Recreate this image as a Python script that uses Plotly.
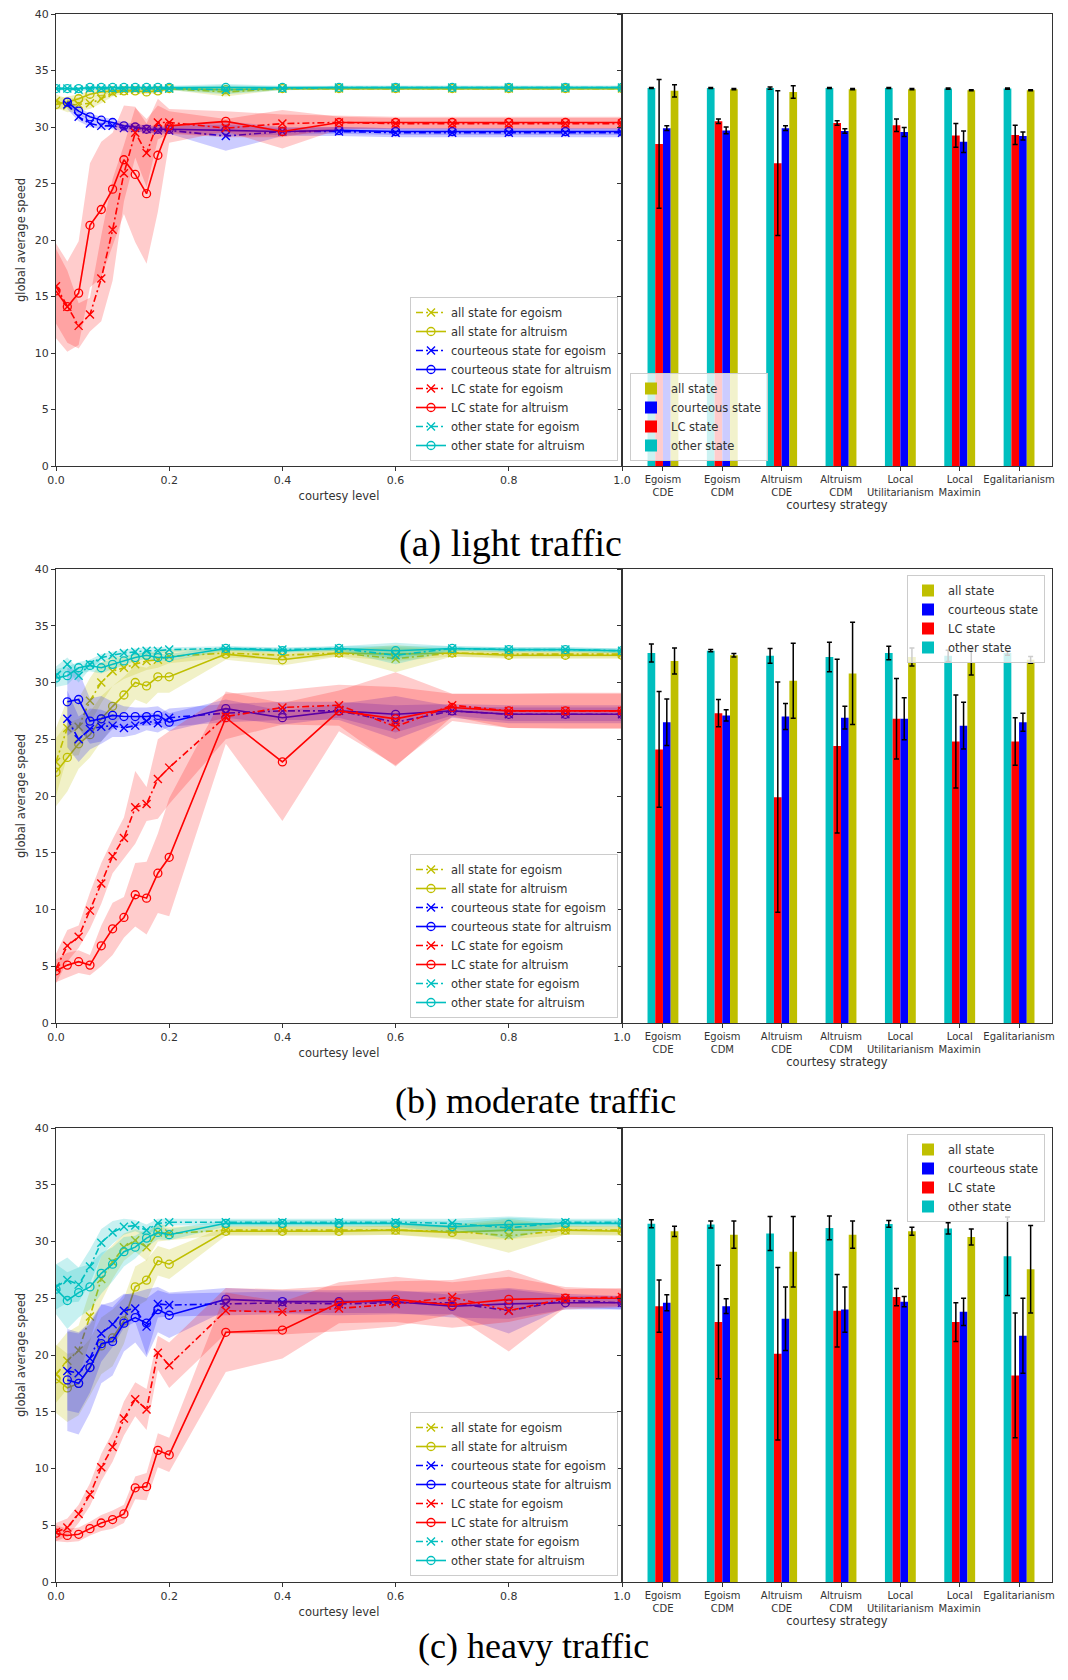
import plotly.graph_objects as go

# ---------------- data ----------------
X = [0, 0.02, 0.04, 0.06, 0.08, 0.10, 0.12, 0.14, 0.16, 0.18, 0.20, 0.3, 0.4, 0.5, 0.6, 0.7, 0.8, 0.9, 1.0]
X_TICKS = [0.0, 0.2, 0.4, 0.6, 0.8, 1.0]
Y_TICKS = [0, 5, 10, 15, 20, 25, 30, 35, 40]

STRATEGIES = ["Egoism<br>CDE", "Egoism<br>CDM", "Altruism<br>CDE", "Altruism<br>CDM",
              "Local<br>Utilitarianism", "Local<br>Maximin", "Egalitarianism"]

# light traffic - line chart (mean and band half width)
LIGHT_ALL_EGO = [32.3, 31.9, 32.0, 32.1, 32.5, 33.0, 33.2, 33.3, 33.3, 33.3, 33.4, 33.1, 33.4, 33.4, 33.4, 33.4, 33.4, 33.4, 33.4]
LIGHT_ALL_EGO_SD = [0.6, 0.6, 0.6, 0.5, 0.4, 0.3, 0.2, 0.2, 0.2, 0.2, 0.1, 0.4, 0.1, 0.1, 0.1, 0.1, 0.1, 0.1, 0.1]
LIGHT_ALL_ALT = [32.0, 32.2, 32.5, 32.9, 33.1, 33.2, 33.2, 33.2, 33.1, 33.2, 33.4, 33.3, 33.4, 33.4, 33.4, 33.4, 33.4, 33.4, 33.4]
LIGHT_ALL_ALT_SD = [0.5, 0.5, 0.4, 0.3, 0.3, 0.2, 0.2, 0.2, 0.2, 0.2, 0.1, 0.3, 0.1, 0.1, 0.1, 0.1, 0.1, 0.1, 0.1]
LIGHT_COUR_EGO = [None, 32.0, 30.9, 30.3, 30.1, 30.1, 29.9, 29.9, 29.8, 29.7, 29.7, 29.2, 29.6, 29.6, 29.5, 29.5, 29.5, 29.5, 29.5]
LIGHT_COUR_EGO_SD = [None, 0.4, 0.4, 0.3, 0.3, 0.3, 0.3, 0.3, 0.3, 0.3, 0.3, 1.3, 0.4, 0.4, 0.4, 0.4, 0.4, 0.4, 0.4]
LIGHT_COUR_ALT = [None, 32.2, 31.4, 30.9, 30.6, 30.4, 30.1, 30.0, 29.8, 29.8, 29.8, 29.7, 29.6, 29.7, 29.6, 29.6, 29.6, 29.6, 29.6]
LIGHT_COUR_ALT_SD = [None, 0.3, 0.3, 0.3, 0.3, 0.3, 0.3, 0.3, 0.3, 0.3, 0.3, 0.5, 0.3, 0.3, 0.3, 0.3, 0.3, 0.3, 0.3]
LIGHT_LC_EGO = [15.9, 14.1, 12.4, 13.4, 16.6, 20.9, 25.9, 29.5, 27.7, 30.4, 30.4, 29.9, 30.3, 30.4, 30.3, 30.3, 30.3, 30.3, 30.3]
LIGHT_LC_EGO_SD = [3.3, 3.2, 2.0, 1.5, 3.8, 4.5, 2.5, 2.2, 3.0, 1.5, 1.0, 0.8, 1.2, 0.5, 0.5, 0.5, 0.5, 0.5, 0.5]
LIGHT_LC_ALT = [15.5, 14.1, 15.3, 21.3, 22.7, 24.5, 27.1, 25.8, 24.1, 27.5, 30.1, 30.5, 29.6, 30.4, 30.4, 30.4, 30.4, 30.4, 30.4]
LIGHT_LC_ALT_SD = [4.2, 4.0, 4.6, 5.5, 6.0, 5.0, 4.8, 6.0, 6.2, 5.0, 1.5, 0.9, 1.5, 0.6, 0.5, 0.5, 0.5, 0.5, 0.5]
LIGHT_OTH_EGO = [33.4, 33.4, 33.3, 33.4, 33.4, 33.4, 33.4, 33.4, 33.4, 33.4, 33.4, 33.3, 33.4, 33.5, 33.5, 33.5, 33.5, 33.5, 33.5]
LIGHT_OTH_EGO_SD = [0.15, 0.15, 0.15, 0.15, 0.15, 0.15, 0.15, 0.15, 0.15, 0.15, 0.15, 0.4, 0.15, 0.15, 0.15, 0.15, 0.15, 0.15, 0.15]
LIGHT_OTH_ALT = [33.4, 33.4, 33.4, 33.5, 33.5, 33.5, 33.5, 33.5, 33.5, 33.5, 33.5, 33.5, 33.5, 33.5, 33.5, 33.5, 33.5, 33.5, 33.5]
LIGHT_OTH_ALT_SD = [0.15, 0.15, 0.15, 0.15, 0.15, 0.15, 0.15, 0.15, 0.15, 0.15, 0.15, 0.3, 0.15, 0.15, 0.15, 0.15, 0.15, 0.15, 0.15]

# moderate traffic
MOD_ALL_EGO = [23.0, 26.0, 26.1, 28.4, 30.0, 31.0, 31.3, 31.6, 31.9, 32.0, 32.3, 32.6, 32.4, 32.6, 32.1, 32.6, 32.5, 32.5, 32.5]
MOD_ALL_EGO_SD = [3.0, 2.5, 2.5, 2.0, 1.8, 1.3, 1.0, 0.9, 0.8, 0.7, 0.6, 0.4, 0.4, 0.3, 1.2, 0.3, 0.3, 0.3, 0.3]
MOD_ALL_ALT = [22.1, 23.4, 24.6, 25.4, 26.8, 27.9, 28.9, 30.0, 29.7, 30.5, 30.5, 32.5, 32.0, 32.6, 32.5, 32.6, 32.4, 32.4, 32.4]
MOD_ALL_ALT_SD = [3.0, 3.0, 2.2, 2.0, 2.0, 1.8, 1.6, 1.5, 1.6, 1.4, 1.4, 0.5, 0.5, 0.3, 0.6, 0.3, 0.3, 0.3, 0.3]
MOD_COUR_EGO = [None, 26.8, 25.0, 25.9, 26.1, 26.2, 26.0, 26.2, 26.6, 26.4, 26.9, 27.3, 27.5, 27.5, 26.5, 27.5, 27.2, 27.2, 27.2]
MOD_COUR_EGO_SD = [None, 2.5, 2.0, 1.8, 1.5, 1.0, 0.8, 0.8, 0.8, 0.8, 0.8, 0.8, 0.8, 0.8, 1.5, 0.6, 0.8, 0.8, 0.8]
MOD_COUR_ALT = [None, 28.3, 28.5, 26.6, 26.8, 27.1, 27.0, 27.0, 27.0, 27.1, 26.5, 27.7, 26.9, 27.5, 27.2, 27.5, 27.2, 27.2, 27.2]
MOD_COUR_ALT_SD = [None, 3.0, 2.5, 2.0, 2.0, 1.2, 0.9, 0.8, 0.8, 0.8, 0.8, 0.8, 0.6, 0.6, 1.6, 0.4, 0.6, 0.6, 0.6]
MOD_LC_EGO = [4.8, 6.8, 7.6, 9.9, 12.3, 14.7, 16.3, 19.0, 19.3, 21.5, 22.5, 27.0, 27.8, 28.0, 26.1, 28.0, 27.5, 27.5, 27.5]
MOD_LC_EGO_SD = [1.3, 1.4, 1.0, 1.6, 1.8, 1.5, 1.8, 3.2, 1.5, 3.5, 3.2, 2.0, 1.5, 1.8, 3.5, 1.0, 1.5, 1.6, 1.6]
MOD_LC_ALT = [4.6, 5.1, 5.4, 5.1, 6.8, 8.3, 9.3, 11.3, 11.0, 13.2, 14.6, 26.9, 23.0, 27.5, 26.8, 27.8, 27.5, 27.5, 27.5]
MOD_LC_ALT_SD = [1.0, 1.1, 1.0, 0.9, 1.8, 2.3, 1.8, 2.8, 3.2, 3.5, 5.2, 2.3, 5.2, 1.8, 4.1, 1.2, 1.5, 1.5, 1.5]
MOD_OTH_EGO = [30.6, 31.6, 30.6, 31.6, 32.2, 32.4, 32.6, 32.7, 32.8, 32.8, 32.9, 33.0, 32.9, 33.0, 32.4, 33.0, 32.9, 32.9, 32.8]
MOD_OTH_EGO_SD = [0.8, 0.6, 0.6, 0.4, 0.3, 0.3, 0.3, 0.3, 0.3, 0.3, 0.2, 0.2, 0.2, 0.2, 0.8, 0.2, 0.2, 0.2, 0.2]
MOD_OTH_ALT = [30.4, 30.6, 31.3, 31.5, 31.3, 31.6, 31.9, 32.2, 32.4, 32.2, 32.2, 33.0, 32.8, 33.0, 32.8, 33.0, 32.9, 32.9, 32.8]
MOD_OTH_ALT_SD = [0.8, 0.8, 0.5, 0.5, 0.5, 0.4, 0.4, 0.3, 0.3, 0.3, 0.3, 0.2, 0.2, 0.2, 0.7, 0.2, 0.2, 0.2, 0.2]

# heavy traffic
HEAVY_ALL_EGO = [18.3, 19.5, 20.4, 23.4, 26.7, 28.2, 29.5, 30.1, 29.5, 30.8, 30.7, 31.0, 31.0, 31.0, 31.0, 30.9, 30.5, 31.0, 31.0]
HEAVY_ALL_EGO_SD = [2.5, 2.5, 2.2, 2.2, 2.0, 1.5, 1.2, 1.0, 1.2, 0.8, 0.6, 0.4, 0.4, 0.4, 0.4, 0.6, 1.5, 0.4, 0.4]
HEAVY_ALL_ALT = [17.9, 17.1, 17.5, 18.9, 20.8, 21.5, 23.0, 26.0, 26.6, 28.3, 28.0, 30.9, 30.9, 30.9, 31.0, 30.8, 31.0, 31.0, 30.9]
HEAVY_ALL_ALT_SD = [3.0, 3.0, 2.8, 2.5, 2.5, 2.5, 2.0, 1.8, 1.8, 1.3, 1.3, 0.4, 0.4, 0.4, 0.4, 0.6, 0.8, 0.4, 0.4]
HEAVY_COUR_EGO = [None, 18.6, 18.4, 19.7, 21.9, 22.7, 23.9, 24.1, 22.5, 24.5, 24.4, 24.5, 24.6, 24.5, 24.6, 24.6, 23.9, 24.8, 24.6]
HEAVY_COUR_EGO_SD = [None, 3.5, 3.5, 3.0, 2.5, 2.0, 1.5, 1.2, 2.5, 1.2, 1.0, 1.0, 1.0, 1.0, 1.0, 1.0, 2.0, 0.6, 0.6]
HEAVY_COUR_ALT = [None, 17.8, 17.5, 18.9, 21.0, 21.2, 22.8, 23.3, 22.8, 24.0, 23.5, 24.9, 24.7, 24.7, 24.7, 24.3, 24.5, 24.6, 24.6]
HEAVY_COUR_ALT_SD = [None, 4.5, 4.5, 4.0, 3.5, 3.0, 2.5, 2.2, 3.0, 2.0, 2.0, 1.0, 1.0, 1.0, 1.0, 1.0, 1.3, 0.6, 0.6]
HEAVY_LC_EGO = [4.4, 4.8, 6.0, 7.7, 10.1, 11.9, 14.4, 16.1, 15.2, 20.2, 19.1, 23.9, 23.8, 24.1, 24.5, 25.1, 23.9, 25.0, 25.1]
HEAVY_LC_EGO_SD = [0.8, 0.8, 0.8, 1.0, 1.2, 1.3, 1.5, 1.5, 1.8, 1.5, 2.0, 2.0, 2.0, 2.0, 2.0, 1.5, 3.6, 0.8, 0.8]
HEAVY_LC_ALT = [4.3, 4.1, 4.2, 4.7, 5.2, 5.5, 6.0, 8.3, 8.4, 11.6, 11.2, 22.0, 22.2, 24.6, 24.9, 24.4, 24.9, 25.0, 25.0]
HEAVY_LC_ALT_SD = [0.7, 0.6, 0.6, 0.6, 0.7, 0.8, 0.8, 1.0, 1.2, 1.5, 1.5, 3.5, 2.5, 1.8, 2.0, 2.0, 2.0, 1.0, 0.8]
HEAVY_OTH_EGO = [26.0, 26.6, 26.2, 27.8, 29.9, 30.8, 31.3, 31.4, 31.0, 31.6, 31.7, 31.7, 31.7, 31.7, 31.7, 31.6, 31.2, 31.7, 31.7]
HEAVY_OTH_EGO_SD = [2.0, 2.0, 1.5, 1.5, 1.2, 1.0, 0.7, 0.5, 0.5, 0.4, 0.3, 0.3, 0.3, 0.3, 0.3, 0.4, 1.0, 0.3, 0.3]
HEAVY_OTH_ALT = [25.8, 24.8, 25.5, 26.0, 27.2, 28.0, 29.1, 29.5, 30.3, 30.8, 30.6, 31.6, 31.6, 31.6, 31.6, 31.3, 31.5, 31.6, 31.6]
HEAVY_OTH_ALT_SD = [2.2, 2.5, 2.2, 2.0, 1.8, 1.5, 1.3, 1.0, 0.8, 0.6, 0.5, 0.3, 0.3, 0.3, 0.3, 0.5, 0.6, 0.3, 0.3]

# bar charts: value and error per strategy
LIGHT_BAR_OTHER = [33.45, 33.45, 33.45, 33.45, 33.45, 33.4, 33.4]
LIGHT_BAR_OTHER_ERR = [0.05, 0.05, 0.1, 0.05, 0.05, 0.05, 0.05]
LIGHT_BAR_LC = [28.5, 30.5, 26.8, 30.35, 30.15, 29.25, 29.3]
LIGHT_BAR_LC_ERR = [5.7, 0.2, 6.4, 0.2, 0.55, 1.05, 0.85]
LIGHT_BAR_COUR = [29.9, 29.7, 29.9, 29.65, 29.55, 28.7, 29.2]
LIGHT_BAR_COUR_ERR = [0.2, 0.3, 0.2, 0.2, 0.4, 0.95, 0.35]
LIGHT_BAR_ALL = [33.2, 33.35, 33.1, 33.35, 33.35, 33.25, 33.25]
LIGHT_BAR_ALL_ERR = [0.55, 0.05, 0.55, 0.05, 0.05, 0.05, 0.05]

MOD_BAR_OTHER = [32.6, 32.8, 32.35, 32.25, 32.6, 32.35, 32.6]
MOD_BAR_OTHER_ERR = [0.8, 0.1, 0.65, 1.3, 0.6, 0.5, 0.2]
MOD_BAR_LC = [24.1, 27.3, 19.9, 24.4, 26.8, 24.8, 24.8]
MOD_BAR_LC_ERR = [5.1, 1.2, 10.15, 7.65, 3.55, 4.1, 2.1]
MOD_BAR_COUR = [26.5, 27.1, 27.0, 26.9, 26.8, 26.2, 26.5]
MOD_BAR_COUR_ERR = [2.05, 0.5, 1.15, 1.0, 1.85, 2.05, 0.8]
MOD_BAR_ALL = [31.9, 32.4, 30.15, 30.8, 32.25, 31.8, 32.0]
MOD_BAR_ALL_ERR = [1.15, 0.15, 3.3, 4.5, 0.8, 1.15, 0.3]

HEAVY_BAR_OTHER = [31.57, 31.5, 30.7, 31.2, 31.55, 31.15, 28.7]
HEAVY_BAR_OTHER_ERR = [0.35, 0.3, 1.5, 1.05, 0.3, 0.5, 3.45]
HEAVY_BAR_LC = [24.3, 22.9, 20.1, 23.9, 25.1, 22.9, 18.2]
HEAVY_BAR_LC_ERR = [2.3, 5.0, 7.6, 3.2, 0.75, 1.7, 5.5]
HEAVY_BAR_COUR = [24.6, 24.3, 23.2, 24.0, 24.7, 23.8, 21.7]
HEAVY_BAR_COUR_ERR = [0.7, 0.65, 2.8, 2.0, 0.45, 1.2, 3.3]
HEAVY_BAR_ALL = [30.9, 30.6, 29.1, 30.6, 30.9, 30.4, 27.55]
HEAVY_BAR_ALL_ERR = [0.45, 1.2, 3.1, 1.2, 0.35, 0.7, 3.85]

CAPTIONS = ["(a) light traffic", "(b) moderate traffic", "(c) heavy traffic"]

# ---------------- style ----------------
OFF = 8                       # page body margin of the html page
W, H = 1068 - 2 * OFF, 1680 - 2 * OFF


def px(x):
    return (x - OFF) / W


def py(y):
    return 1 - (y - OFF) / H


YEL, BLU, RED, CYA = "#bfbf00", "#0000ff", "#ff0000", "#00bfbf"
BAND = {YEL: "rgba(191,191,0,0.22)", BLU: "rgba(0,0,255,0.2)", RED: "rgba(255,0,0,0.2)", CYA: "rgba(0,191,191,0.22)"}
AXC = "#333333"
FONT = "DejaVu Sans"
DASHDOT = "7px,3px,2px,3px"

panels = [
    dict(lines=[("all state for egoism", YEL, "ego", LIGHT_ALL_EGO, LIGHT_ALL_EGO_SD),
                ("all state for altruism", YEL, "alt", LIGHT_ALL_ALT, LIGHT_ALL_ALT_SD),
                ("courteous state for egoism", BLU, "ego", LIGHT_COUR_EGO, LIGHT_COUR_EGO_SD),
                ("courteous state for altruism", BLU, "alt", LIGHT_COUR_ALT, LIGHT_COUR_ALT_SD),
                ("LC state for egoism", RED, "ego", LIGHT_LC_EGO, LIGHT_LC_EGO_SD),
                ("LC state for altruism", RED, "alt", LIGHT_LC_ALT, LIGHT_LC_ALT_SD),
                ("other state for egoism", CYA, "ego", LIGHT_OTH_EGO, LIGHT_OTH_EGO_SD),
                ("other state for altruism", CYA, "alt", LIGHT_OTH_ALT, LIGHT_OTH_ALT_SD)],
         bars=[("other state", CYA, LIGHT_BAR_OTHER, LIGHT_BAR_OTHER_ERR),
               ("LC state", RED, LIGHT_BAR_LC, LIGHT_BAR_LC_ERR),
               ("courteous state", BLU, LIGHT_BAR_COUR, LIGHT_BAR_COUR_ERR),
               ("all state", YEL, LIGHT_BAR_ALL, LIGHT_BAR_ALL_ERR)],
         top=14, bottom=466, cap_y=543, cap_x=397, cap_size=38,
         leg1=dict(x=410, y=461, yanchor="bottom"), leg2=dict(x=630, y=461, xanchor="left", yanchor="bottom")),
    dict(lines=[("all state for egoism", YEL, "ego", MOD_ALL_EGO, MOD_ALL_EGO_SD),
                ("all state for altruism", YEL, "alt", MOD_ALL_ALT, MOD_ALL_ALT_SD),
                ("courteous state for egoism", BLU, "ego", MOD_COUR_EGO, MOD_COUR_EGO_SD),
                ("courteous state for altruism", BLU, "alt", MOD_COUR_ALT, MOD_COUR_ALT_SD),
                ("LC state for egoism", RED, "ego", MOD_LC_EGO, MOD_LC_EGO_SD),
                ("LC state for altruism", RED, "alt", MOD_LC_ALT, MOD_LC_ALT_SD),
                ("other state for egoism", CYA, "ego", MOD_OTH_EGO, MOD_OTH_EGO_SD),
                ("other state for altruism", CYA, "alt", MOD_OTH_ALT, MOD_OTH_ALT_SD)],
         bars=[("other state", CYA, MOD_BAR_OTHER, MOD_BAR_OTHER_ERR),
               ("LC state", RED, MOD_BAR_LC, MOD_BAR_LC_ERR),
               ("courteous state", BLU, MOD_BAR_COUR, MOD_BAR_COUR_ERR),
               ("all state", YEL, MOD_BAR_ALL, MOD_BAR_ALL_ERR)],
         top=569, bottom=1023, cap_y=1101, cap_x=393, cap_size=36,
         leg1=dict(x=410, y=1018, yanchor="bottom"), leg2=dict(x=1045, y=575, xanchor="right", yanchor="top")),
    dict(lines=[("all state for egoism", YEL, "ego", HEAVY_ALL_EGO, HEAVY_ALL_EGO_SD),
                ("all state for altruism", YEL, "alt", HEAVY_ALL_ALT, HEAVY_ALL_ALT_SD),
                ("courteous state for egoism", BLU, "ego", HEAVY_COUR_EGO, HEAVY_COUR_EGO_SD),
                ("courteous state for altruism", BLU, "alt", HEAVY_COUR_ALT, HEAVY_COUR_ALT_SD),
                ("LC state for egoism", RED, "ego", HEAVY_LC_EGO, HEAVY_LC_EGO_SD),
                ("LC state for altruism", RED, "alt", HEAVY_LC_ALT, HEAVY_LC_ALT_SD),
                ("other state for egoism", CYA, "ego", HEAVY_OTH_EGO, HEAVY_OTH_EGO_SD),
                ("other state for altruism", CYA, "alt", HEAVY_OTH_ALT, HEAVY_OTH_ALT_SD)],
         bars=[("other state", CYA, HEAVY_BAR_OTHER, HEAVY_BAR_OTHER_ERR),
               ("LC state", RED, HEAVY_BAR_LC, HEAVY_BAR_LC_ERR),
               ("courteous state", BLU, HEAVY_BAR_COUR, HEAVY_BAR_COUR_ERR),
               ("all state", YEL, HEAVY_BAR_ALL, HEAVY_BAR_ALL_ERR)],
         top=1128, bottom=1582, cap_y=1646, cap_x=416, cap_size=36,
         leg1=dict(x=410, y=1576, yanchor="bottom"), leg2=dict(x=1045, y=1134, xanchor="right", yanchor="top")),
]

LEFT_X0, SPLIT_X, RIGHT_X1 = 56, 622, 1052
BAR_LEGEND_ORDER = {"all state": 1, "courteous state": 2, "LC state": 3, "other state": 4}

fig = go.Figure()
layout = dict(width=W, height=H, margin=dict(l=0, r=0, t=0, b=0),
              paper_bgcolor="white", plot_bgcolor="white", template="none",
              barmode="group", bargap=0.48, bargroupgap=0.0,
              font=dict(family=FONT, size=11, color=AXC))
annotations = []

for i, p in enumerate(panels):
    n_l = 2 * i + 1
    n_r = 2 * i + 2
    xl, yl = ("x" if n_l == 1 else f"x{n_l}"), ("y" if n_l == 1 else f"y{n_l}")
    xr, yr = f"x{n_r}", f"y{n_r}"
    leg_l = "legend" if n_l == 1 else f"legend{n_l}"
    leg_r = f"legend{n_r}"
    ydom = [py(p["bottom"]), py(p["top"])]

    # line chart with shaded bands
    for name, col, kind, mean, sd in p["lines"]:
        xs = [x for x, m in zip(X, mean) if m is not None]
        ms = [m for m in mean if m is not None]
        ss = [s for s in sd if s is not None]
        up = [m + s for m, s in zip(ms, ss)]
        lo = [m - s for m, s in zip(ms, ss)]
        fig.add_trace(go.Scatter(x=xs + xs[::-1], y=up + lo[::-1], fill="toself",
                                 fillcolor=BAND[col], line=dict(width=0), mode="lines",
                                 hoverinfo="skip", showlegend=False, xaxis=xl, yaxis=yl))
        if kind == "ego":
            fig.add_trace(go.Scatter(x=xs, y=ms, name=name, mode="lines+markers",
                                     line=dict(color=col, width=1.6, dash=DASHDOT),
                                     marker=dict(symbol="x-thin-open", size=8, color=col,
                                                 line=dict(color=col, width=1.4)),
                                     xaxis=xl, yaxis=yl, legend=leg_l))
        else:
            fig.add_trace(go.Scatter(x=xs, y=ms, name=name, mode="lines+markers",
                                     line=dict(color=col, width=1.6),
                                     marker=dict(symbol="circle-open", size=8, color=col,
                                                 line=dict(color=col, width=1.3)),
                                     xaxis=xl, yaxis=yl, legend=leg_l))

    # bar chart with error bars
    for name, col, vals, errs in p["bars"]:
        fig.add_trace(go.Bar(x=list(range(len(STRATEGIES))), y=vals, name=name,
                             marker=dict(color=col, line=dict(width=0)),
                             error_y=dict(type="data", array=errs, visible=True,
                                          color="black", thickness=1.5, width=2.5),
                             xaxis=xr, yaxis=yr, legend=leg_r,
                             legendrank=BAR_LEGEND_ORDER[name]))

    axis_common = dict(showline=True, linecolor=AXC, linewidth=1.2, mirror=True,
                       ticks="outside", ticklen=4, tickcolor=AXC, tickwidth=1,
                       showgrid=False, zeroline=False, ticklabeloverflow="allow",
                       tickfont=dict(family=FONT, size=11, color=AXC))
    title_font = dict(family=FONT, size=11.5, color=AXC)

    layout["xaxis" if n_l == 1 else f"xaxis{n_l}"] = dict(
        axis_common, domain=[px(LEFT_X0), px(SPLIT_X)], anchor=yl, range=[0, 1],
        tickvals=X_TICKS, tickformat=".1f",
        title=dict(text="courtesy level", font=title_font, standoff=5))
    layout["yaxis" if n_l == 1 else f"yaxis{n_l}"] = dict(
        axis_common, domain=ydom, anchor=xl, range=[0, 40], tickvals=Y_TICKS,
        title=dict(text="global average speed", font=title_font, standoff=6))
    layout[f"xaxis{n_r}"] = dict(
        axis_common, domain=[px(SPLIT_X), px(RIGHT_X1)], anchor=yr, range=[-0.69, 6.555],
        tickvals=list(range(len(STRATEGIES))), ticktext=STRATEGIES,
        tickfont=dict(family=FONT, size=10, color=AXC),
        title=dict(text="courtesy strategy", font=title_font, standoff=3))
    layout[f"yaxis{n_r}"] = dict(
        axis_common, domain=ydom, anchor=xr, range=[0, 40], tickvals=Y_TICKS,
        showticklabels=False)

    l1 = p["leg1"]
    layout[leg_l] = dict(x=px(l1["x"]), y=py(l1["y"]), xanchor="left", yanchor=l1["yanchor"],
                         bgcolor="rgba(255,255,255,0.8)", bordercolor="#cccccc", borderwidth=1,
                         font=dict(family=FONT, size=11.5, color=AXC), tracegroupgap=0)
    l2 = p["leg2"]
    layout[leg_r] = dict(x=px(l2["x"]), y=py(l2["y"]), xanchor=l2["xanchor"], yanchor=l2["yanchor"],
                         bgcolor="rgba(255,255,255,0.8)", bordercolor="#cccccc", borderwidth=1,
                         font=dict(family=FONT, size=11.5, color=AXC), tracegroupgap=0,
                         traceorder="normal")

    annotations.append(dict(text=CAPTIONS[i], x=px(p["cap_x"]), y=py(p["cap_y"]),
                            xref="paper", yref="paper", xanchor="left", yanchor="middle",
                            showarrow=False,
                            font=dict(family="Liberation Serif", size=p["cap_size"], color="black")))

layout["annotations"] = annotations
fig.update_layout(**layout)
fig.write_html("out.html")
